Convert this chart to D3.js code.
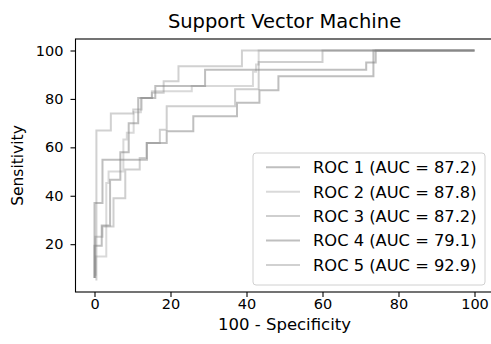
<!DOCTYPE html>
<html>
<head>
<meta charset="utf-8">
<script src="https://cdnjs.cloudflare.com/ajax/libs/d3/7.8.5/d3.min.js"></script>
<style>
  body { margin: 0; background: #fff; }
  .chart text { font-family: "DejaVu Sans", sans-serif; fill: #000; }
</style>
</head>
<body>
<div class="chart"></div>
<script>
// ROC curves, Support Vector Machine

// x = 100 - specificity, y = sensitivity (vertices of each step curve)
var roc1X = [0, 0, 1.9, 1.9, 4.1, 4.1, 6.8, 6.8, 9, 9, 11.5, 11.5, 16, 16, 29.1, 29.1, 71.5, 71.5, 74, 74, 100];
var roc1Y = [6, 19.4, 19.4, 27.7, 27.7, 46.6, 46.6, 58, 58, 70, 70, 80.4, 80.4, 85.3, 85.3, 92, 92, 95, 95, 100, 100];

var roc2X = [0.3, 0.3, 3.1, 3.1, 3.7, 3.7, 7.6, 7.6, 8.5, 8.5, 10.3, 10.3, 12.2, 12.2, 15.1, 15.1, 25.6, 25.6, 41.7, 41.7, 42.5, 42.5, 43.2, 43.2, 100];
var roc2Y = [7, 14.9, 14.9, 45.3, 45.3, 50, 50, 63.2, 63.2, 66, 66, 74.5, 74.5, 80.4, 80.4, 83.2, 83.2, 85.3, 85.3, 91.2, 91.2, 94.2, 94.2, 100, 100];

var roc3X = [0.2, 0.2, 2.1, 2.1, 5, 5, 8.1, 8.1, 11.9, 11.9, 13.7, 13.7, 17.2, 17.2, 19, 19, 37, 37, 43.2, 43.2, 60, 60, 100];
var roc3Y = [6, 23.1, 23.1, 27.3, 27.3, 39, 39, 50.8, 50.8, 55.6, 55.6, 61.8, 61.8, 67.3, 67.3, 77, 77, 84, 84, 95.3, 95.3, 100, 100];

var roc4X = [0, 0, 2.1, 2.1, 13.8, 13.8, 19, 19, 26, 26, 37.5, 37.5, 43.4, 43.4, 48.4, 48.4, 73.4, 73.4, 100];
var roc4Y = [6, 37, 37, 54.9, 54.9, 61.8, 61.8, 66.6, 66.6, 72.8, 72.8, 78.4, 78.4, 83.6, 83.6, 89.4, 89.4, 100, 100];

var roc5X = [0.5, 0.5, 4.3, 4.3, 10.2, 10.2, 12.4, 12.4, 15.1, 15.1, 18.2, 18.2, 22.1, 22.1, 38.8, 38.8, 100];
var roc5Y = [5, 67, 67, 74, 74, 75.6, 75.6, 80.4, 80.4, 82.5, 82.5, 87.3, 87.3, 93.5, 93.5, 100, 100];

var rocLabels = ["ROC 1 (AUC = 87.2)", "ROC 2 (AUC = 87.8)", "ROC 3 (AUC = 87.2)", "ROC 4 (AUC = 79.1)", "ROC 5 (AUC = 92.9)"];
var xTicks = [0, 20, 40, 60, 80, 100];
var yTicks = [20, 40, 60, 80, 100];

var svgWidth = 491;
var svgHeight = 344;

var margin = {
    top: 39,
    left: 75.5,
    bottom: 52
};

var width = 418;
var height = svgHeight - margin.top - margin.bottom;

var svg = d3.select(".chart")
    .append("svg")
    .attr("width", svgWidth)
    .attr("height", svgHeight);

var chartGroup = svg.append("g")
    .attr("transform", `translate(${margin.left}, ${margin.top})`);

// build the curves as point lists
var curves = [[roc1X, roc1Y], [roc2X, roc2Y], [roc3X, roc3Y], [roc4X, roc4Y], [roc5X, roc5Y]].map(function(c) {
    return c[0].map((x, i) => ({x: x, y: c[1][i]}));
});
var allPts = d3.merge(curves);

// matplotlib-like 5% margins
function padded(ext) {
    var pad = (ext[1] - ext[0]) * 0.05;
    return [ext[0] - pad, ext[1] + pad];
}

var xLinearScale = d3.scaleLinear()
    .domain(padded(d3.extent(allPts, d => d.x)))
    .range([0, width]);

var yLinearScale = d3.scaleLinear()
    .domain(padded(d3.extent(allPts, d => d.y)))
    .range([height, 0]);

var lineOpacity = [0.5, 0.3, 0.38, 0.5, 0.36];

var line = d3.line()
    .x(d => xLinearScale(d.x))
    .y(d => yLinearScale(d.y));

chartGroup.selectAll(".roc")
    .data(curves)
    .enter()
    .append("path")
    .attr("class", "roc")
    .attr("d", line)
    .attr("fill", "none")
    .attr("stroke", "#808080")
    .attr("stroke-opacity", (d, i) => lineOpacity[i])
    .attr("stroke-width", 2);

// axes
var bottomAxis = d3.axisBottom(xLinearScale).tickValues(xTicks).tickSize(5).tickPadding(2).tickSizeOuter(0);
var leftAxis = d3.axisLeft(yLinearScale).tickValues(yTicks).tickSize(5).tickPadding(7).tickSizeOuter(0);

var xAxisG = chartGroup.append("g")
    .attr("transform", `translate(0, ${height})`)
    .call(bottomAxis);

var yAxisG = chartGroup.append("g")
    .call(leftAxis);

[xAxisG, yAxisG].forEach(function(g) {
    g.select(".domain").remove();
    g.selectAll("line").attr("stroke", "#000").attr("stroke-width", 1.1);
    g.selectAll("text").style("font-size", "14.5px").attr("fill", "#000");
});

// frame
chartGroup.append("rect")
    .attr("width", width)
    .attr("height", height)
    .attr("fill", "none")
    .attr("stroke", "#000")
    .attr("stroke-width", 1.1);

// title and labels
svg.append("text")
    .attr("x", margin.left + width / 2)
    .attr("y", 28)
    .attr("text-anchor", "middle")
    .style("font-size", "19.5px")
    .text("Support Vector Machine");

svg.append("text")
    .attr("x", margin.left + width / 2)
    .attr("y", 330)
    .attr("text-anchor", "middle")
    .style("font-size", "16.5px")
    .text("100 - Specificity");

svg.append("text")
    .attr("transform", "rotate(-90)")
    .attr("x", 0 - (margin.top + height / 2))
    .attr("y", 23)
    .attr("text-anchor", "middle")
    .style("font-size", "15.5px")
    .text("Sensitivity");

// legend
var legend = svg.append("g")
    .attr("transform", "translate(253, 153)");

legend.append("rect")
    .attr("width", 232)
    .attr("height", 132)
    .attr("rx", 3)
    .attr("fill", "#fff")
    .attr("fill-opacity", 0.8)
    .attr("stroke", "#d0d0d0");

var rows = legend.selectAll(".row")
    .data(rocLabels)
    .enter()
    .append("g")
    .attr("class", "row")
    .attr("transform", (d, i) => `translate(0, ${14.3 + i * 24.4})`);

rows.append("line")
    .attr("x1", 13)
    .attr("x2", 47)
    .attr("stroke", "#808080")
    .attr("stroke-opacity", (d, i) => lineOpacity[i])
    .attr("stroke-width", 2);

rows.append("text")
    .attr("x", 60)
    .attr("dy", "0.36em")
    .style("font-size", "16.3px")
    .text(d => d);
</script>
</body>
</html>
